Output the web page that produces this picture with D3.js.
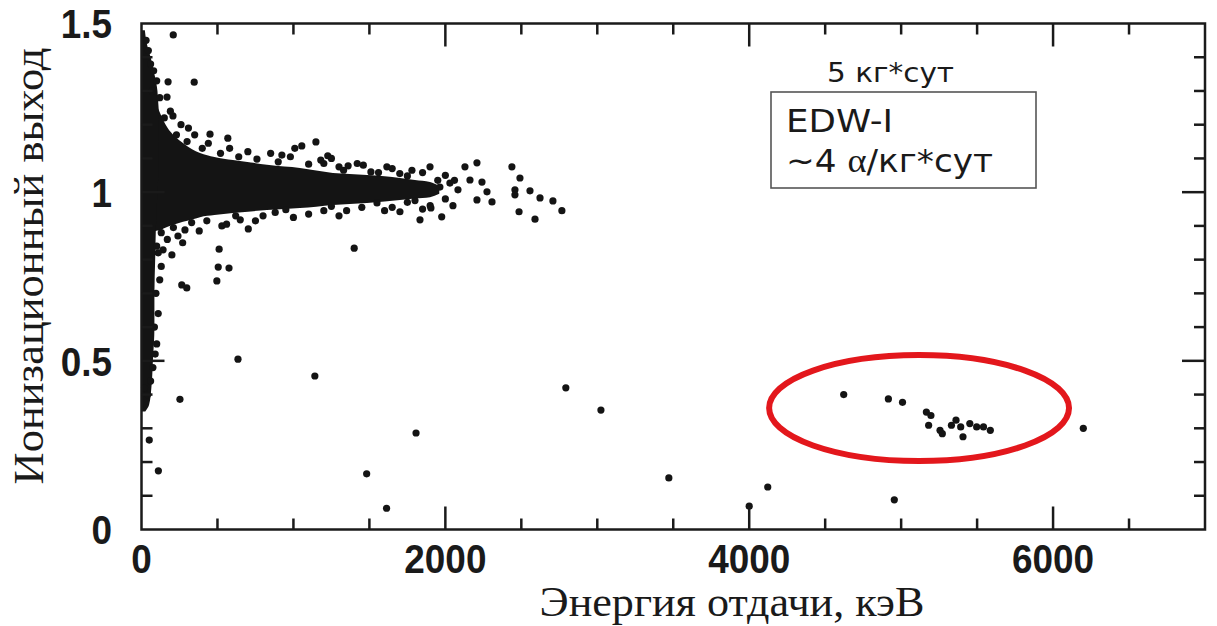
<!DOCTYPE html>
<html>
<head>
<meta charset="utf-8">
<script src="https://cdn.jsdelivr.net/npm/d3@7/dist/d3.min.js"></script>
<style>
  html, body { margin: 0; padding: 0; background: #fff; }
  svg { display: block; }
</style>
</head>
<body>
<svg id="chart" width="1217" height="626"></svg>
<script>
// Recoil energy (keV) vs ionization yield, EDW-I data.

// Dense core of the electron-recoil band: energy and upper/lower edges of yield
const bandEnergy = [40, 60, 90, 122, 168, 220, 273, 330, 385, 480, 602, 720, 826, 940, 1043, 1150, 1260, 1370, 1484, 1600, 1701, 1800, 1899, 1960];
const bandUpper  = [1.40, 1.31, 1.27, 1.235, 1.193, 1.165, 1.146, 1.128, 1.116, 1.104, 1.095, 1.088, 1.081, 1.076, 1.072, 1.064, 1.057, 1.054, 1.051, 1.047, 1.042, 1.036, 1.030, 1.018];
const bandLower  = [0.86, 0.875, 0.885, 0.888, 0.897, 0.905, 0.912, 0.919, 0.926, 0.932, 0.938, 0.943, 0.947, 0.950, 0.953, 0.957, 0.962, 0.965, 0.968, 0.972, 0.977, 0.981, 0.985, 0.995];

// Low-energy column along the axis: yield and right edge (keV)
const stripYield  = [1.48, 1.44, 1.40, 1.35, 1.30, 1.20, 1.10, 1.00, 0.90, 0.80, 0.70, 0.60, 0.50, 0.42, 0.37, 0.35];
const stripEnergy = [22, 35, 60, 85, 105, 115, 115, 105, 95, 90, 85, 85, 75, 65, 50, 25];

// Individual events (energy keV, yield)
const eventEnergy = [
  // above the band
  209, 175, 347, 168, 207, 309, 451, 568, 924, 1009, 1055, 1148, 1226, 1360, 1510, 1615,
  700, 760, 980, 1100, 1180, 1300, 1420, 1560, 1650, 1750, 1850,
  120, 150, 190, 230, 260, 300, 350, 400, 440, 520, 580, 640, 850, 900, 1200, 1250, 1330, 1460, 1700, 1780, 1950, 2000, 2060,
  30, 45, 60, 80, 100, 70,
  // below the band
  529, 703, 286, 271, 142, 200, 511, 505, 576, 496, 265, 298, 1400,
  650, 800, 950, 1100, 1250, 1350, 1550, 1650, 1800, 1900,
  100, 130, 170, 210, 240, 330, 380, 430, 560, 620, 750, 880, 1000, 1200, 1300, 1450, 1600, 1750, 1850, 2000, 2050,
  20, 40, 60, 75, 90, 100, 85, 110, 95, 120, 130, 110,
  // sparse tail of the band
  1899, 2129, 2208, 2162, 2241, 2274, 2307, 2208, 2438, 2491, 2458, 2458, 2557, 2623, 2708, 2767, 2485, 2590, 1976, 1833, 1905, 1701, 2030, 1964, 2083,
  // isolated low-yield events
  635, 1141, 1482, 1613, 253, 51, 111, 1807, 2793, 3024, 3471, 4000, 4122, 4622, 4916, 5009, 4955, 6199,
  // alpha cluster
  5166, 5196, 5181, 5256, 5271, 5331, 5361, 5392, 5407, 5452, 5497, 5542, 5587
];
const eventYield = [
  1.466, 1.327, 1.326, 1.282, 1.226, 1.19, 1.172, 1.16, 1.11, 1.13, 1.137, 1.149, 1.108, 1.078, 1.06, 1.075,
  1.12, 1.098, 1.105, 1.083, 1.095, 1.075, 1.085, 1.058, 1.07, 1.048, 1.058,
  1.28, 1.22, 1.24, 1.17, 1.20, 1.15, 1.17, 1.13, 1.145, 1.115, 1.13, 1.105, 1.115, 1.09, 1.085, 1.10, 1.065, 1.08, 1.055, 1.065, 1.035, 1.05, 1.035,
  1.45, 1.42, 1.38, 1.36, 1.33, 1.30,
  0.90, 0.891, 0.888, 0.85, 0.829, 0.814, 0.831, 0.778, 0.775, 0.737, 0.725, 0.716, 0.834,
  0.918, 0.93, 0.948, 0.935, 0.958, 0.945, 0.968, 0.955, 0.975, 0.96,
  0.84, 0.88, 0.86, 0.895, 0.87, 0.91, 0.885, 0.915, 0.905, 0.93, 0.915, 0.94, 0.925, 0.945, 0.93, 0.955, 0.945, 0.97, 0.95, 0.98, 0.96,
  0.42, 0.40, 0.44, 0.48, 0.52, 0.55, 0.60, 0.64, 0.70, 0.74, 0.78, 0.82,
  1.075, 1.075, 1.087, 1.036, 1.03, 1.001, 0.971, 0.977, 1.075, 1.042, 1.007, 0.992, 1.004, 0.983, 0.974, 0.945, 0.942, 0.92, 0.927, 0.918, 0.953, 0.942, 1.027, 1.015, 1.007,
  0.505, 0.455, 0.165, 0.063, 0.386, 0.265, 0.174, 0.286, 0.42, 0.354, 0.153, 0.069, 0.126, 0.40, 0.387, 0.377, 0.088, 0.30,
  0.348, 0.338, 0.309, 0.294, 0.284, 0.309, 0.324, 0.304, 0.275, 0.314, 0.304, 0.304, 0.294
];

// Axis ticks
const xMajorTicks = [0, 2000, 4000, 6000];
const xMinorTicks = [500, 1000, 1500, 2500, 3000, 3500, 4500, 5000, 5500, 6500];
const yMajorTicks = [0, 0.5, 1, 1.5];
const yMinorTicks = [0.1, 0.2, 0.3, 0.4, 0.6, 0.7, 0.8, 0.9, 1.1, 1.2, 1.3, 1.4];

// Highlighted region (alpha events)
const ringCenter = [5118, 0.36];
const ringRadius = [987, 0.157];

const xLabel = "Энергия отдачи, кэВ";
const yLabel = "Ионизационный выход";
const exposureText = "5 кг*сут";
const legendLine1 = "EDW-I";
const legendLine2a = "~4 ";
const legendAlpha = "α";
const legendLine2b = "/кг*сут";

const svg = d3.select("#chart");
const plotLeft = 141.5, plotRight = 1205, plotTop = 23.5, plotBottom = 529.5;
const x = d3.scaleLinear().domain([0, 7000]).range([plotLeft, plotRight]);
const y = d3.scaleLinear().domain([0, 1.5]).range([plotBottom, plotTop]);

const ink = "#141414";

// Band core
const band = bandEnergy.map((e, i) => ({ e, hi: bandUpper[i], lo: bandLower[i] }));
svg.append("path")
  .datum(band)
  .attr("fill", ink)
  .attr("d", d3.area().curve(d3.curveMonotoneX)
    .x(d => x(d.e)).y0(d => y(d.lo)).y1(d => y(d.hi)));

// Low-energy column
const strip = stripYield.map((v, i) => ({ v, e: stripEnergy[i] }));
svg.append("path")
  .datum(strip)
  .attr("fill", ink)
  .attr("d", d3.area().curve(d3.curveMonotoneY)
    .y(d => y(d.v)).x0(() => x(0)).x1(d => x(d.e)));

// Events
const events = eventEnergy.map((e, i) => ({ e, v: eventYield[i] }));
svg.append("g").selectAll("circle")
  .data(events)
  .join("circle")
  .attr("cx", d => x(d.e))
  .attr("cy", d => y(d.v))
  .attr("r", 3.6)
  .attr("fill", ink);

// Frame and ticks
const frame = svg.append("g").attr("stroke", "#1a1a1a").attr("stroke-width", 2.5).attr("fill", "none");
frame.append("rect").attr("x", plotLeft).attr("y", plotTop).attr("width", plotRight - plotLeft).attr("height", plotBottom - plotTop);

function tickMarks(values, len, orient) {
  values.forEach(v => {
    if (orient === "x") {
      frame.append("line").attr("x1", x(v)).attr("x2", x(v)).attr("y1", plotBottom).attr("y2", plotBottom - len);
      frame.append("line").attr("x1", x(v)).attr("x2", x(v)).attr("y1", plotTop).attr("y2", plotTop + len);
    } else {
      frame.append("line").attr("y1", y(v)).attr("y2", y(v)).attr("x1", plotLeft).attr("x2", plotLeft + len);
      frame.append("line").attr("y1", y(v)).attr("y2", y(v)).attr("x1", plotRight).attr("x2", plotRight - len);
    }
  });
}
tickMarks(xMinorTicks, 11, "x");
tickMarks(xMajorTicks.filter(v => v > 0), 23, "x");
tickMarks(yMinorTicks, 11, "y");
tickMarks(yMajorTicks.filter(v => v > 0 && v < 1.5), 23, "y");

// Tick labels (bold, slightly condensed)
const tickFont = "'Liberation Sans', Arial, sans-serif";
svg.append("g").selectAll("text")
  .data(xMajorTicks)
  .join("text")
  .attr("transform", d => `translate(${x(d)},573) scale(0.9,1)`)
  .attr("text-anchor", "middle")
  .attr("font-family", tickFont)
  .attr("font-weight", "bold")
  .attr("font-size", 41)
  .attr("fill", "#1a1a1a")
  .text(d => d);

svg.append("g").selectAll("text")
  .data(yMajorTicks)
  .join("text")
  .attr("transform", d => `translate(112,${y(d)}) scale(0.9,1)`)
  .attr("dy", "0.36em")
  .attr("text-anchor", "end")
  .attr("font-family", tickFont)
  .attr("font-weight", "bold")
  .attr("font-size", 41)
  .attr("fill", "#1a1a1a")
  .text(d => d);

// Axis titles
svg.append("text")
  .attr("x", 732).attr("y", 616)
  .attr("text-anchor", "middle")
  .attr("font-family", "'Liberation Serif', 'Times New Roman', serif")
  .attr("font-size", 42)
  .attr("textLength", 385).attr("lengthAdjust", "spacingAndGlyphs")
  .attr("fill", "#1a1a1a")
  .text(xLabel);

svg.append("text")
  .attr("transform", "translate(43,266) rotate(-90)")
  .attr("text-anchor", "middle")
  .attr("font-family", "'Liberation Serif', 'Times New Roman', serif")
  .attr("font-size", 43)
  .attr("textLength", 437).attr("lengthAdjust", "spacingAndGlyphs")
  .attr("fill", "#1a1a1a")
  .text(yLabel);

// Exposure note and legend box
svg.append("text")
  .attr("x", 827).attr("y", 82)
  .attr("font-family", "'DejaVu Sans', Verdana, sans-serif")
  .attr("font-size", 26)
  .attr("textLength", 127).attr("lengthAdjust", "spacingAndGlyphs")
  .attr("fill", "#1a1a1a")
  .text(exposureText);

svg.append("rect")
  .attr("x", 771).attr("y", 92).attr("width", 265).attr("height", 96)
  .attr("fill", "#fff").attr("stroke", "#555").attr("stroke-width", 1.6);

svg.append("text")
  .attr("x", 786).attr("y", 132)
  .attr("font-family", "'DejaVu Sans', Verdana, sans-serif")
  .attr("font-size", 32)
  .attr("textLength", 107).attr("lengthAdjust", "spacingAndGlyphs")
  .attr("fill", "#1a1a1a")
  .text(legendLine1);

const l2 = svg.append("text")
  .attr("x", 786).attr("y", 172)
  .attr("font-family", "'DejaVu Sans', Verdana, sans-serif")
  .attr("font-size", 32)
  .attr("textLength", 207).attr("lengthAdjust", "spacingAndGlyphs")
  .attr("fill", "#1a1a1a");
l2.append("tspan").text(legendLine2a);
l2.append("tspan").attr("font-family", "'Liberation Serif', 'Times New Roman', serif").attr("font-size", 34).text(legendAlpha);
l2.append("tspan").text(legendLine2b);

// Highlight ring
svg.append("ellipse")
  .attr("cx", x(ringCenter[0]))
  .attr("cy", y(ringCenter[1]))
  .attr("rx", x(ringCenter[0] + ringRadius[0]) - x(ringCenter[0]))
  .attr("ry", y(ringCenter[1] - ringRadius[1]) - y(ringCenter[1]))
  .attr("fill", "none")
  .attr("stroke", "#e3171c")
  .attr("stroke-width", 6);
</script>
</body>
</html>
